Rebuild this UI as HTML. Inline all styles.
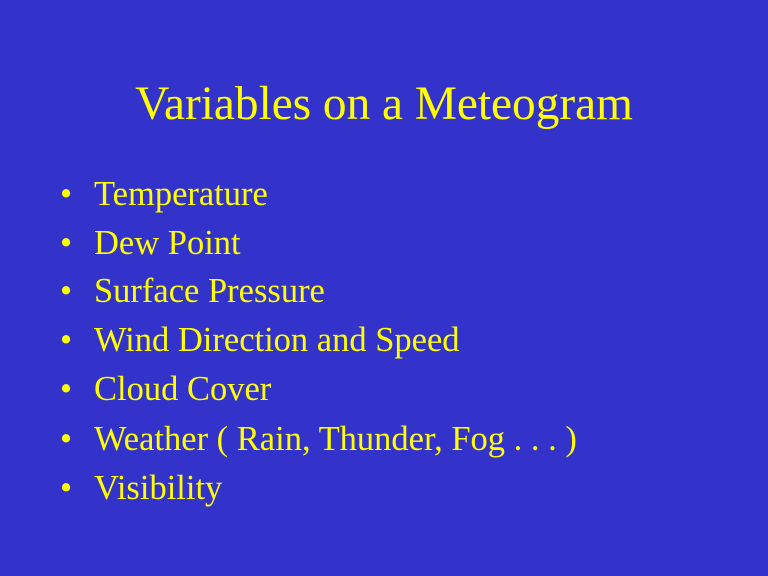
<!DOCTYPE html>
<html>
<head>
<meta charset="utf-8">
<style>
  html, body { margin:0; padding:0; }
  body { width:768px; height:576px; background:#3333CC; position:relative; overflow:hidden;
         font-family:"Liberation Serif", "Times New Roman", serif; color:#FFFF00; }
  .title { position:absolute; left:0; width:768px; top:81px; text-align:center;
           font-size:47.3px; line-height:1; white-space:nowrap; }
  .item { position:absolute; left:94px; font-size:34.5px; line-height:1; white-space:nowrap; }
  .bullet { position:absolute; left:-34px; }
</style>
</head>
<body>
  <div class="title">Variables on a Meteogram</div>
  <div class="item" style="top:177px"><span class="bullet">•</span>Temperature</div>
  <div class="item" style="top:226px"><span class="bullet">•</span>Dew Point</div>
  <div class="item" style="top:274px"><span class="bullet">•</span>Surface Pressure</div>
  <div class="item" style="top:323px"><span class="bullet">•</span>Wind Direction and Speed</div>
  <div class="item" style="top:372px"><span class="bullet">•</span>Cloud Cover</div>
  <div class="item" style="top:422px"><span class="bullet">•</span>Weather ( Rain, Thunder, Fog . . . )</div>
  <div class="item" style="top:471px"><span class="bullet">•</span>Visibility</div>
</body>
</html>
